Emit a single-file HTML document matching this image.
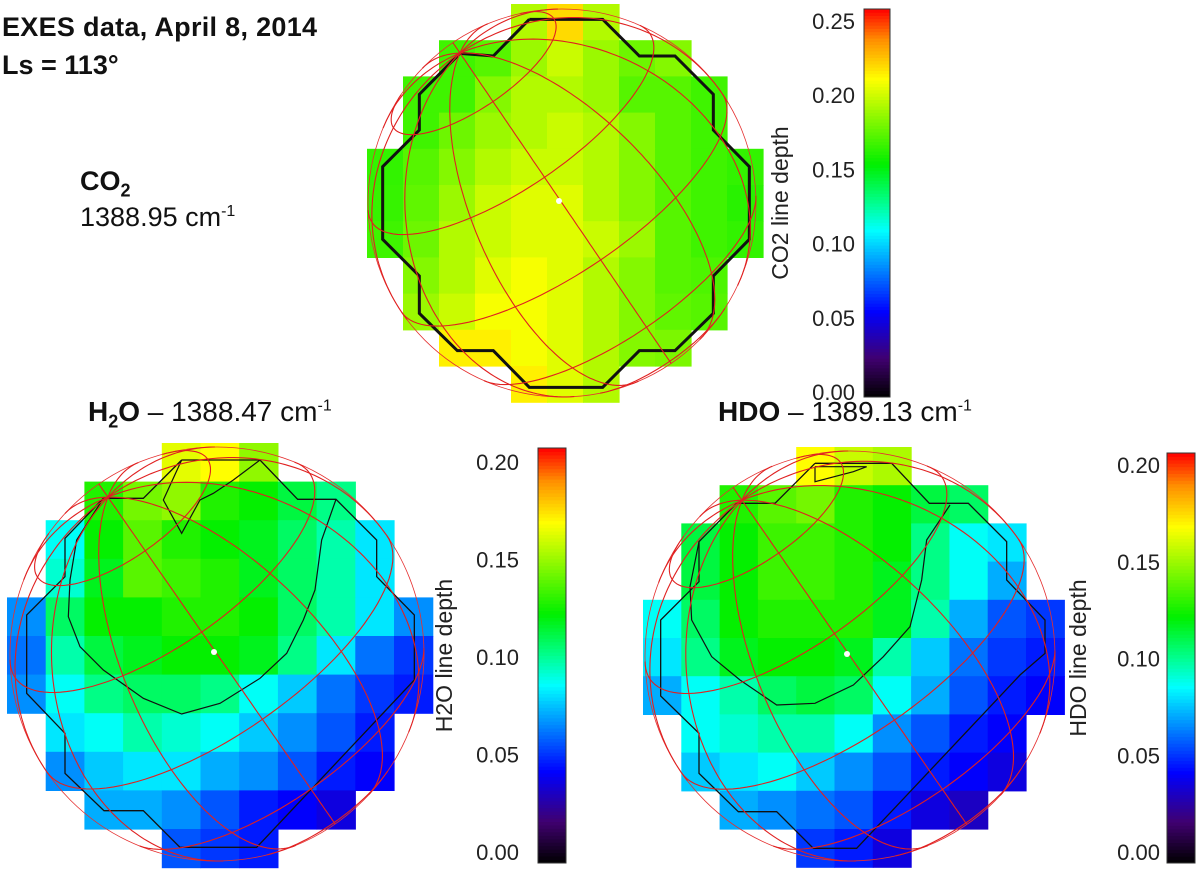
<!DOCTYPE html>
<html><head><meta charset="utf-8">
<style>
html,body{margin:0;padding:0;background:#fff;}
body{width:1200px;height:871px;overflow:hidden;position:relative;font-family:"Liberation Sans",sans-serif;}
.t{position:absolute;white-space:nowrap;color:#111;}
</style></head>
<body>
<div class="t" style="left:2px;top:12px;font-size:27px;font-weight:bold;letter-spacing:0.3px;">EXES data, April 8, 2014</div>
<div class="t" style="left:2px;top:50px;font-size:27px;font-weight:bold;">Ls = 113°</div>
<div class="t" style="left:80px;top:166px;font-size:27px;font-weight:bold;">CO<sub style="font-size:18px">2</sub></div>
<div class="t" style="left:80px;top:202px;font-size:27px;">1388.95 cm<sup style="font-size:16px">-1</sup></div>
<div class="t" style="left:88px;top:396px;font-size:28px;"><b>H<sub style="font-size:18px">2</sub>O</b> – 1388.47 cm<sup style="font-size:16px">-1</sup></div>
<div class="t" style="left:718px;top:396px;font-size:28px;"><b>HDO</b> – 1389.13 cm<sup style="font-size:16px">-1</sup></div>
<svg id="svg" width="1200" height="871" style="position:absolute;left:0;top:0"></svg>
<script>
const rowStarts=[4,2,1,1,0,0,0,1,1,2,4];
const co2Values=[
[0.19,0.215,0.19],
[0.165,0.17,0.185,0.195,0.185,0.175,0.18],
[0.165,0.165,0.18,0.19,0.19,0.185,0.17,0.17,0.165],
[0.165,0.175,0.185,0.19,0.195,0.19,0.18,0.17,0.165],
[0.162,0.17,0.18,0.19,0.195,0.195,0.19,0.18,0.17,0.165,0.162],
[0.163,0.172,0.185,0.195,0.2,0.2,0.19,0.18,0.17,0.165,0.16],
[0.165,0.175,0.19,0.195,0.2,0.2,0.195,0.185,0.17,0.165,0.162],
[0.18,0.19,0.2,0.205,0.2,0.19,0.18,0.17,0.168],
[0.185,0.195,0.205,0.205,0.2,0.19,0.18,0.172,0.17],
[0.21,0.21,0.205,0.2,0.19,0.18,0.178],
[0.21,0.2,0.19]];
const h2oValues=[
[0.165,0.17,0.15],
[0.13,0.145,0.15,0.13,0.125,0.115,0.105],
[0.09,0.125,0.14,0.13,0.125,0.12,0.11,0.1,0.085],
[0.095,0.12,0.14,0.135,0.13,0.12,0.11,0.1,0.085],
[0.07,0.11,0.125,0.125,0.13,0.13,0.125,0.11,0.1,0.085,0.07],
[0.065,0.1,0.115,0.12,0.125,0.125,0.12,0.105,0.085,0.065,0.055],
[0.07,0.09,0.105,0.11,0.11,0.105,0.09,0.08,0.065,0.055,0.05],
[0.085,0.09,0.1,0.095,0.09,0.08,0.07,0.06,0.05],
[0.07,0.08,0.085,0.085,0.075,0.07,0.06,0.05,0.045],
[0.075,0.075,0.07,0.06,0.05,0.045,0.04],
[0.06,0.055,0.05]];
const hdoValues=[
[0.17,0.16,0.155],
[0.13,0.14,0.145,0.13,0.125,0.115,0.11],
[0.115,0.125,0.135,0.135,0.13,0.125,0.105,0.09,0.085],
[0.115,0.125,0.135,0.135,0.13,0.12,0.105,0.09,0.075],
[0.09,0.11,0.125,0.13,0.13,0.13,0.12,0.1,0.075,0.06,0.055],
[0.085,0.105,0.12,0.125,0.125,0.12,0.1,0.08,0.065,0.055,0.05],
[0.075,0.09,0.1,0.11,0.115,0.11,0.09,0.075,0.06,0.05,0.045],
[0.09,0.095,0.1,0.1,0.09,0.07,0.06,0.05,0.045],
[0.08,0.085,0.09,0.08,0.07,0.06,0.05,0.045,0.04],
[0.075,0.07,0.065,0.06,0.05,0.04,0.035],
[0.055,0.05,0.04]];
const co2Ticks=["0.00","0.05","0.10","0.15","0.20","0.25"];
const co2TickVals=[0,0.05,0.10,0.15,0.20,0.25];
const waterTicks=["0.00","0.05","0.10","0.15","0.20"];
const waterTickVals=[0,0.05,0.10,0.15,0.20];
const latLines=[-60,-30,0,30,60];
const lonLines=[0,30,60,90,120,150,180,210,240,270,300,330];

const NS='http://www.w3.org/2000/svg';
const svg=document.getElementById('svg');
function mk(tag,attrs,parent){const e=document.createElementNS(NS,tag);for(const k in attrs)e.setAttribute(k,attrs[k]);(parent||svg).appendChild(e);return e;}
const stops=[[0,[0,0,0]],[0.1,[64,0,112]],[0.22,[0,0,255]],[0.43,[0,255,255]],[0.5,[0,255,144]],[0.6,[0,240,0]],[0.82,[255,255,0]],[0.92,[255,144,0]],[1,[255,0,0]]];
function cmap(f){f=Math.max(0,Math.min(1,f));for(let i=1;i<stops.length;i++){if(f<=stops[i][0]){const a=stops[i-1],b=stops[i];const t=(f-a[0])/(b[0]-a[0]);const c=a[1].map((v,j)=>Math.round(v+(b[1][j]-v)*t));return `rgb(${c[0]},${c[1]},${c[2]})`;}}return 'rgb(255,0,0)';}

function panel(name,vals,vmax,x0,y0,cw,ch,cx,cy,r,pole,contours){
  const g=mk('g',{});
  
  
  vals.forEach((row,ri)=>{row.forEach((v,ci)=>{
    const col=rowStarts[ri]+ci;
    const rc=mk('rect',{x:x0+col*cw,y:y0+ri*ch,width:cw+0.6,height:ch+0.6,fill:cmap(v/vmax)},g);
    
    
  });});
  contours.forEach((c,i)=>{
    const p=mk('polyline',{points:c.pts.map(q=>(q[0]/3+c.ox)+','+(q[1]/3+c.oy)).join(' '),fill:'none',stroke:'#111','stroke-width':c.w},g);
    
    
  });
  const gg=mk('g',{},g);
  
  
  mk('circle',{cx:cx,cy:cy,r:r,fill:'none',stroke:'#e53030','stroke-width':0.8},gg);
  const px=pole[0],py=pole[1],pz=Math.sqrt(Math.max(0,1-px*px-py*py));
  const P=[px,py,pz];let E=[-py,px,0];const el=Math.hypot(E[0],E[1]);E=E.map(v=>v/el);
  const F=[P[1]*E[2]-P[2]*E[1],P[2]*E[0]-P[0]*E[2],P[0]*E[1]-P[1]*E[0]];
  function proj(lat,lon){const a=lat*Math.PI/180,b=lon*Math.PI/180;const c1=Math.cos(a)*Math.cos(b),c2=Math.cos(a)*Math.sin(b),c3=Math.sin(a);
    return [c1*F[0]+c2*E[0]+c3*P[0],c1*F[1]+c2*E[1]+c3*P[1],c1*F[2]+c2*E[2]+c3*P[2]];}
  function drawCurve(fn){let d='',pen=false;for(let t=0;t<=360;t+=3){const q=fn(t);if(q[2]>-0.02){d+=(pen?'L':'M')+(cx+q[0]*r).toFixed(1)+','+(cy+q[1]*r).toFixed(1);pen=true;}else pen=false;}
    mk('path',{d:d,fill:'none',stroke:'#e02020','stroke-width':1.1},gg);}
  latLines.forEach(la=>drawCurve(t=>proj(la,t)));
  lonLines.forEach(lo=>drawCurve(t=>proj(t*0.5-90,lo)));
  const dot=mk('circle',{cx:cx-3,cy:cy-2,r:3,fill:'#fff'},g);
  
  
}
function colorbar(name,x,y0,y1,w,vmax,vals,labels,ly0,lyPer,lx,title,tx){
  const g=mk('g',{});
  
  
  const n=120,h=(y1-y0)/n;
  for(let i=0;i<n;i++){mk('rect',{x:x,y:y1-(i+1)*h,width:w,height:h+0.5,fill:cmap((i+0.5)/n)},g);}
  mk('rect',{x:x,y:y0,width:w,height:y1-y0,fill:'none',stroke:'#333','stroke-width':1},g);
  vals.forEach((v,i)=>{const t=mk('text',{x:lx,y:ly0-v*lyPer+8,'text-anchor':'end','font-size':22,fill:'#222','font-family':'Liberation Sans, sans-serif'},g);t.textContent=labels[i];
    
    });
  const ty=(y0+y1)/2;
  const tt=mk('text',{x:tx,y:ty,'text-anchor':'middle','font-size':23,fill:'#222',transform:`rotate(-90 ${tx} ${ty})`,'font-family':'Liberation Sans, sans-serif'},g);tt.textContent=title;
  
  
}
const co2Outer=[[508,58],[728,58],[838,168],[945,168],[1060,283],[1060,390],[1168,500],[1168,718],[1060,828],[1060,940],[945,1052],[838,1052],[728,1162],[508,1162],[400,1052],[292,1052],[178,940],[178,828],[68,718],[68,500],[178,390],[178,283],[300,160],[400,168],[508,58]];
const h2oOuter=[[545,60],[780,60],[893,178],[1008,178],[1130,300],[1130,410],[1243,525],[1243,720],[770,1222],[540,1222],[430,1112],[312,1112],[195,1000],[195,880],[80,760],[80,525],[195,410],[195,295],[310,175],[430,175],[545,60]];
const h2oInner=[[1008,178],[965,300],[945,450],[910,540],[860,640],[780,715],[660,790],[545,822],[430,775],[310,690],[240,620],[205,530],[210,420],[230,300],[310,175]];
const h2oTop=[[545,60],[490,180],[545,280],[600,180],[640,160],[700,120],[780,60]];
const hdoOuter=[[585,70],[815,70],[928,190],[1045,190],[1160,305],[1160,420],[1275,540],[1275,640],[1200,705],[710,1225],[580,1225],[470,1115],[355,1115],[237,1000],[237,880],[122,768],[122,540],[237,425],[237,305],[350,190],[465,190],[585,70]];
const hdoInner=[[990,195],[920,300],[905,420],[870,560],[790,650],[700,735],[585,790],[470,795],[360,720],[275,650],[215,540],[210,440],[237,305]];
const hdoTop=[[585,80],[740,80],[700,95],[585,125],[585,80]];
panel('co2',co2Values,0.252,367,4,36,36.2,562,203,194,[-0.526,-0.773],[{pts:co2Outer,ox:360,oy:0,w:3}]);
panel('h2o',h2oValues,0.207,7,443,38.7,38.6,217,654,207,[-0.527,-0.758],[{pts:h2oOuter,ox:0,oy:440,w:1.3},{pts:h2oInner,ox:0,oy:440,w:1.2},{pts:h2oTop,ox:0,oy:440,w:1.2}]);
panel('hdo',hdoValues,0.207,643,447,38.3,38.2,850,656,205,[-0.527,-0.76],[{pts:hdoOuter,ox:620,oy:440,w:1.3},{pts:hdoInner,ox:620,oy:440,w:1.2},{pts:hdoTop,ox:620,oy:440,w:1.2}]);
colorbar('co2',864,9,397,26,0.258,co2TickVals,co2Ticks,392,1484,855,'CO2 line depth',788);
colorbar('h2o',538,448,863,28,0.207,waterTickVals,waterTicks,852,1950,519,'H2O line depth',452);
colorbar('hdo',1167,453,863,28,0.207,waterTickVals,waterTicks,852,1935,1160,'HDO line depth',1086);
</script>
</body></html>
